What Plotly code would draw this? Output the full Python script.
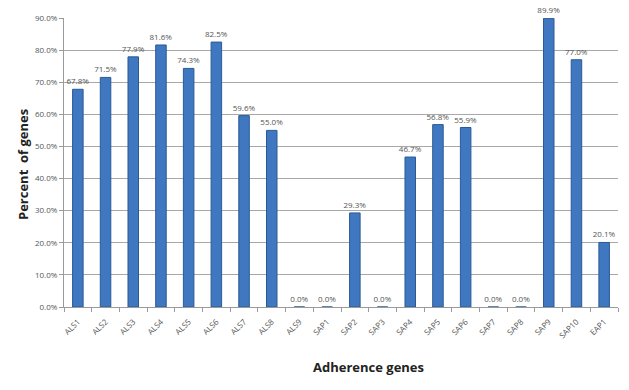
import plotly.graph_objects as go

genes = ["ALS1", "ALS2", "ALS3", "ALS4", "ALS5", "ALS6", "ALS7", "ALS8", "ALS9",
         "SAP1", "SAP2", "SAP3", "SAP4", "SAP5", "SAP6", "SAP7", "SAP8", "SAP9",
         "SAP10", "EAP1"]
percent = [67.8, 71.5, 77.9, 81.6, 74.3, 82.5, 59.6, 55.0, 0.0,
           0.0, 29.3, 0.0, 46.7, 56.8, 55.9, 0.0, 0.0, 89.9,
           77.0, 20.1]
y_ticks = [0, 10, 20, 30, 40, 50, 60, 70, 80, 90]

fig = go.Figure()
fig.add_trace(go.Bar(
    x=genes, y=percent,
    marker=dict(color="#3f78c0", line=dict(color="#2a5a96", width=1)),
    text=[f"{v:.1f}%" for v in percent],
    textposition="outside",
    constraintext="none",
    textfont=dict(family="Open Sans, Arial", size=8, color="#555555"),
    cliponaxis=False,
    width=0.38,
))

fig.update_layout(
    width=629, height=390,
    margin=dict(l=64, r=11, t=18, b=83),
    plot_bgcolor="white", paper_bgcolor="white",
    showlegend=False,
    xaxis=dict(
        tickangle=-45,
        tickfont=dict(family="Open Sans, Arial", size=8, color="#555555"),
        showline=True, linecolor="#9a9a9a", linewidth=1,
        ticks="outside", ticklen=4, tickcolor="#9a9a9a",
        tickson="boundaries",
        ticklabelstandoff=6,
        showgrid=False,
    ),
    yaxis=dict(
        range=[0, 90],
        tickvals=y_ticks,
        ticktext=[f"{v:.1f}%" for v in y_ticks],
        tickfont=dict(family="Open Sans, Arial", size=8, color="#555555"),
        showline=True, linecolor="#9a9a9a", linewidth=1,
        gridcolor="#a8a8a8", gridwidth=1,
        ticks="outside", ticklen=4, tickcolor="#9a9a9a",
        zeroline=False,
    ),
    annotations=[
        dict(text="<b>Adherence genes</b>", x=368, y=378, xref="paper", yref="paper",
             showarrow=False, font=dict(family="Open Sans, Arial", size=13, color="#222222")),
        dict(text="<b>Percent  of genes</b>", textangle=-90, x=12, y=165,
             xref="paper", yref="paper", showarrow=False,
             font=dict(family="Open Sans, Arial", size=13, color="#222222")),
    ],
)

# convert pixel positions of annotations to paper coords
pw = 629 - 64 - 11
ph = 390 - 18 - 83
for a in fig.layout.annotations:
    px, py = a.x, a.y
    a.x = (px - 64) / pw
    a.y = (390 - 83 - py) / ph

fig.write_html("out.html")
